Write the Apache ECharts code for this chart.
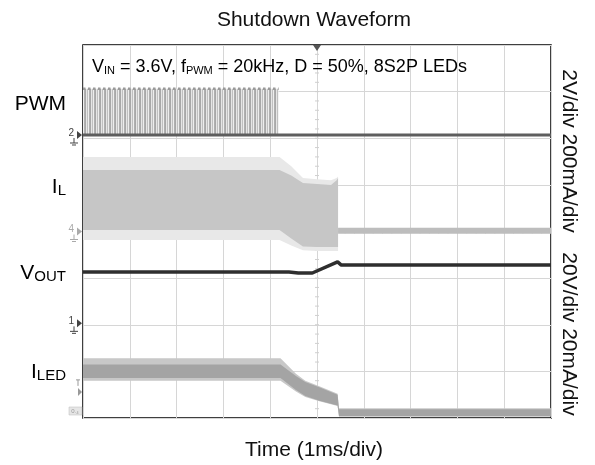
<!DOCTYPE html>
<html><head><meta charset="utf-8">
<script src="https://cdn.jsdelivr.net/npm/echarts@6/dist/echarts.min.js"></script>
<style>html,body{margin:0;padding:0;background:#fff}#c{width:595px;height:465px}</style>
</head><body><div id="c"></div>
<script>
// time axis in ms (1 ms/div), vertical axis in divisions (0..8)
const xTicks = [0,1,2,3,4,5,6,7,8,9,10];
const yTicks = [0,1,2,3,4,5,6,7,8];

// PWM (switching until ~4.18 ms, then low)
const pwmTime  = [0, 4.18];
const pwmHigh  = [7.06, 7.06];
const pwmLow   = [6.07, 6.07];
const pwmLineTime  = [0, 10];
const pwmLineLevel = [6.07, 6.07];

// Inductor current envelope
const ilTime       = [0, 4.2, 4.45, 4.7, 5.0, 5.3, 5.42, 5.45];
const ilUpper      = [5.32, 5.32, 5.2, 5.04, 5.02, 5.0, 5.1, 5.15];
const ilLower      = [4.03, 4.03, 3.85, 3.68, 3.67, 3.67, 3.67, 3.67];
const ilSpikeUpper = [5.6, 5.6, 5.4, 5.15, 5.12, 5.1, 5.15, 5.18];
const ilSpikeLower = [3.82, 3.82, 3.7, 3.6, 3.58, 3.58, 3.58, 3.58];
const ilOffTime    = [5.45, 10];
const ilOffUpper   = [4.08, 4.08];
const ilOffLower   = [3.95, 3.95];

// Output voltage
const voutTime  = [0, 4.4, 4.6, 4.9, 5.44, 5.52, 10];
const voutLevel = [3.13, 3.13, 3.11, 3.11, 3.35, 3.28, 3.28];

// LED current envelope
const iledTime       = [0, 4.22, 4.55, 4.75, 5.05, 5.44, 5.47, 10];
const iledUpper      = [1.15, 1.15, 0.9, 0.77, 0.66, 0.5, 0.19, 0.19];
const iledLower      = [0.86, 0.86, 0.6, 0.47, 0.37, 0.27, 0.04, 0.04];
const iledSpikeUpper = [1.28, 1.28, 0.95, 0.8, 0.68, 0.52, 0.21, 0.21];
const iledSpikeLower = [0.8, 0.8, 0.57, 0.45, 0.36, 0.26, 0.03, 0.03];

// channel reference markers (division levels)
const markerLabels = ['2', '4', '1'];
const markerLevels = [6.07, 4.0, 2.03];
const markerColors = ['#444', '#aaa', '#444'];

const FONT = 'Liberation Sans, Arial, sans-serif';

function makePattern() {
  const cv = document.createElement('canvas');
  cv.width = 5; cv.height = 4;
  const ctx = cv.getContext('2d');
  const cols = ['#a8a8a8', '#e6e6e6', '#c0c0c0', '#eeeeee', '#b0b0b0'];
  cols.forEach((c, i) => { ctx.fillStyle = c; ctx.fillRect(i, 0, 1, 4); });
  return cv;
}
const pattern = makePattern();

function band(time, upper, lower, fill, z) {
  return {
    type: 'custom', coordinateSystem: 'cartesian2d', z: z, clip: true, silent: true,
    data: time.map((t, i) => [t, upper[i], lower[i]]),
    encode: { x: 0, y: [1, 2] },
    renderItem: function (params, api) {
      if (params.dataIndex !== 0) return null;
      const pts = [];
      for (let i = 0; i < time.length; i++) pts.push(api.coord([time[i], upper[i]]));
      for (let i = time.length - 1; i >= 0; i--) pts.push(api.coord([time[i], lower[i]]));
      return { type: 'polygon', shape: { points: pts }, style: { fill: fill } };
    }
  };
}
function line(time, vals, color, width, z, type) {
  return {
    type: 'line', z: z, symbol: 'none', silent: true, animation: false,
    data: time.map((t, i) => [t, vals[i]]),
    lineStyle: { color: color, width: width, type: type || 'solid' }
  };
}

const chart = echarts.init(document.getElementById('c'), null, { renderer: 'canvas' });
const option = {
  animation: false,
  backgroundColor: '#fff',
  grid: { left: 83, right: 44, top: 45, bottom: 47, show: true, borderColor: '#000', borderWidth: 1.5, backgroundColor: 'transparent' },
  xAxis: {
    type: 'value', min: xTicks[0], max: xTicks[xTicks.length - 1], interval: 1,
    axisLine: { show: false }, axisTick: { show: false }, axisLabel: { show: false },
    splitLine: { show: true, lineStyle: { color: '#d6d6d6', width: 1 } }
  },
  yAxis: {
    type: 'value', min: yTicks[0], max: yTicks[yTicks.length - 1], interval: 1,
    axisLine: { show: false }, axisTick: { show: false }, axisLabel: { show: false },
    splitLine: { show: true, lineStyle: { color: '#d6d6d6', width: 1 } }
  },
  series: [
    band(pwmTime, pwmHigh, pwmLow, { image: pattern, repeat: 'repeat' }, 2),
    line(pwmTime, pwmHigh, '#9a9a9a', 2.5, 3, 'dotted'),
    line(pwmLineTime, pwmLineLevel, '#5e5e5e', 3, 3),
    band(ilTime, ilSpikeUpper, ilSpikeLower, '#e8e8e8', 2),
    band(ilTime, ilUpper, ilLower, '#c6c6c6', 3),
    band(ilOffTime, ilOffUpper, ilOffLower, '#bdbdbd', 3),
    line(voutTime, voutLevel, '#2e2e2e', 3.5, 5),
    band(iledTime, iledSpikeUpper, iledSpikeLower, '#c8c8c8', 2),
    band(iledTime, iledUpper, iledLower, '#a4a4a4', 3)
  ]
};
chart.setOption(option);

// decorations positioned through the chart's own scale
const g = [];
const px = (x, y) => chart.convertToPixel({ gridIndex: 0 }, [x, y]);
const tl = px(0, 8);
const cx = px(5, 0)[0], cy = px(0, 4)[1];
for (let v = 0.2; v < 8; v += 0.2) {
  const y = px(5, v)[1];
  g.push({ type: 'line', shape: { x1: cx - 2, y1: y, x2: cx + 2, y2: y }, style: { stroke: '#cfcfcf', lineWidth: 1 }, z: 1 });
}
for (let t = 0.2; t < 10; t += 0.2) {
  const x = px(t, 4)[0];
  g.push({ type: 'line', shape: { x1: x, y1: cy - 2, x2: x, y2: cy + 2 }, style: { stroke: '#cfcfcf', lineWidth: 1 }, z: 1 });
}
g.push({ type: 'polygon', shape: { points: [[cx - 4, tl[1]], [cx + 4, tl[1]], [cx, tl[1] + 6]] }, style: { fill: '#555' }, z: 20 });
markerLevels.forEach((lv, i) => {
  const y = px(0, lv)[1];
  const x = tl[0];
  g.push({ type: 'polygon', shape: { points: [[x - 6, y - 4], [x - 1, y], [x - 6, y + 4]] }, style: { fill: markerColors[i] }, z: 20 });
  g.push({ type: 'text', x: x - 9, y: y - 2, style: { text: markerLabels[i], font: '10px ' + FONT, fill: markerColors[i], align: 'right', verticalAlign: 'middle' }, z: 20 });
  g.push({ type: 'line', shape: { x1: x - 9, y1: y + 3, x2: x - 9, y2: y + 8 }, style: { stroke: markerColors[i], lineWidth: 1 }, z: 20 });
  g.push({ type: 'line', shape: { x1: x - 13, y1: y + 8, x2: x - 5, y2: y + 8 }, style: { stroke: markerColors[i], lineWidth: 1 }, z: 20 });
  g.push({ type: 'line', shape: { x1: x - 11, y1: y + 10, x2: x - 7, y2: y + 10 }, style: { stroke: markerColors[i], lineWidth: 1 }, z: 20 });
});
{
  const y = px(0, 0.56)[1];
  g.push({ type: 'polygon', shape: { points: [[tl[0] - 5, y - 4], [tl[0] - 1, y], [tl[0] - 5, y + 4]] }, style: { fill: '#999' }, z: 20 });
  g.push({ type: 'line', shape: { x1: tl[0] - 7, y1: y - 12, x2: tl[0] - 3, y2: y - 12 }, style: { stroke: '#999', lineWidth: 1 }, z: 20 });
  g.push({ type: 'line', shape: { x1: tl[0] - 5, y1: y - 12, x2: tl[0] - 5, y2: y - 6 }, style: { stroke: '#999', lineWidth: 1 }, z: 20 });
  const yb = px(0, 0.15)[1];
  g.push({ type: 'rect', shape: { x: tl[0] - 14, y: yb - 4, width: 13, height: 8 }, style: { fill: '#e6e6e6', stroke: '#bbb', lineWidth: 0.5 }, z: 20 });
  g.push({ type: 'text', x: tl[0] - 8, y: yb, style: { text: '0.₄', font: '6px ' + FONT, fill: '#999', align: 'center', verticalAlign: 'middle' }, z: 21 });
}
g.push({ type: 'text', x: 314, y: 20, style: { text: 'Shutdown Waveform', font: '21px ' + FONT, fill: '#111', align: 'center', verticalAlign: 'middle' } });
g.push({ type: 'text', x: 314, y: 450, style: { text: 'Time (1ms/div)', font: '21px ' + FONT, fill: '#111', align: 'center', verticalAlign: 'middle' } });

const rich = {
  m: { fontSize: 18, fontFamily: FONT, color: '#111' },
  s: { fontSize: 11, fontFamily: FONT, color: '#111', padding: [7, 0, 0, 0] },
  M: { fontSize: 21, fontFamily: FONT, color: '#111' },
  S: { fontSize: 15, fontFamily: FONT, color: '#111', padding: [8, 0, 0, 0] }
};
g.push({ type: 'text', x: 92, y: 67, z: 30, style: { text: '{m|V}{s|IN}{m| = 3.6V, f}{s|PWM}{m| = 20kHz, D = 50%, 8S2P LEDs}', rich: rich, align: 'left', verticalAlign: 'middle' } });
g.push({ type: 'text', x: 66, y: 104, style: { text: '{M|PWM}', rich: rich, align: 'right', verticalAlign: 'middle' } });
g.push({ type: 'text', x: 66, y: 187, style: { text: '{M|I}{S|L}', rich: rich, align: 'right', verticalAlign: 'middle' } });
g.push({ type: 'text', x: 66, y: 273, style: { text: '{M|V}{S|OUT}', rich: rich, align: 'right', verticalAlign: 'middle' } });
g.push({ type: 'text', x: 66, y: 372, style: { text: '{M|I}{S|LED}', rich: rich, align: 'right', verticalAlign: 'middle' } });
g.push({ type: 'text', x: 569, y: 151, rotation: -Math.PI / 2, style: { text: '2V/div 200mA/div', font: '21px ' + FONT, fill: '#111', align: 'center', verticalAlign: 'middle' } });
g.push({ type: 'text', x: 569, y: 334, rotation: -Math.PI / 2, style: { text: '20V/div 20mA/div', font: '21px ' + FONT, fill: '#111', align: 'center', verticalAlign: 'middle' } });

chart.setOption({ graphic: g });
</script>
</body></html>
